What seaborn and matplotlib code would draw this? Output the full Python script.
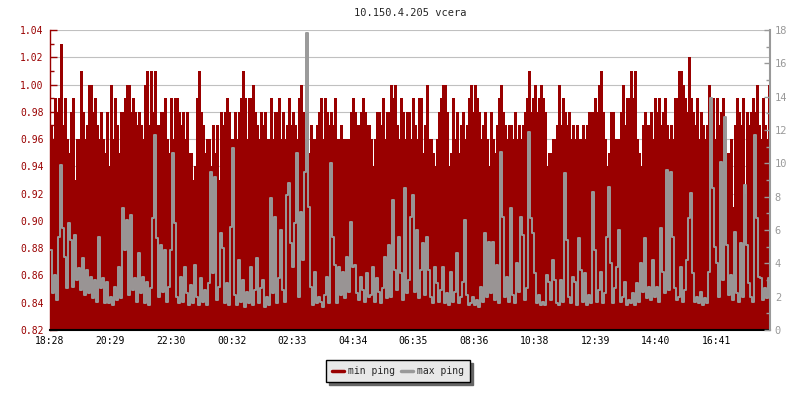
#%% IMPORTS
import numpy as np
import matplotlib
matplotlib.use("Agg")
import matplotlib.pyplot as plt
from matplotlib.lines import Line2D
from matplotlib.ticker import MultipleLocator, FormatStrFormatter, FixedLocator
import seaborn as sns

#%% DATA
title = "10.150.4.205 vcera"
start = "18:28"
step_min = 4  # one sample every 4 minutes, 24 h shown

time_labels = ["18:28", "20:29", "22:30", "00:32", "02:33", "04:34",
               "06:35", "08:36", "10:38", "12:39", "14:40", "16:41"]

# min ping, in hundredths of a ms (left axis)
min_ping_cents = [
    97, 96, 99, 98, 99, 103, 97, 99, 96, 95,
    98, 99, 93, 96, 96, 101, 98, 96, 97, 100,
    100, 98, 99, 97, 96, 98, 96, 95, 98, 94,
    100, 96, 99, 97, 95, 98, 98, 99, 100, 100,
    98, 99, 98, 97, 98, 97, 96, 100, 101, 97,
    101, 98, 101, 97, 97, 98, 98, 99, 96, 95,
    99, 96, 99, 99, 98, 97, 98, 96, 98, 95,
    95, 93, 94, 99, 101, 98, 97, 95, 96, 96,
    94, 97, 95, 97, 93, 98, 97, 98, 99, 98,
    96, 96, 98, 96, 98, 99, 101, 99, 96, 99,
    99, 100, 98, 97, 96, 98, 97, 98, 96, 96,
    99, 96, 98, 98, 99, 96, 98, 96, 97, 99,
    97, 98, 97, 96, 99, 100, 98, 96, 98, 95,
    97, 96, 96, 97, 98, 99, 96, 99, 98, 97,
    98, 97, 99, 96, 96, 97, 96, 96, 96, 96,
    98, 99, 98, 97, 97, 98, 99, 98, 97, 97,
    96, 94, 96, 98, 98, 97, 99, 96, 98, 98,
    100, 99, 100, 97, 96, 99, 98, 96, 98, 98,
    96, 99, 97, 96, 99, 99, 95, 97, 100, 96,
    96, 95, 94, 96, 98, 99, 100, 100, 98, 94,
    95, 99, 96, 98, 95, 97, 98, 96, 97, 99,
    100, 98, 100, 99, 98, 96, 97, 98, 96, 94,
    98, 96, 95, 97, 99, 100, 98, 97, 96, 97,
    97, 96, 98, 96, 97, 96, 97, 98, 99, 101,
    98, 99, 100, 98, 99, 100, 99, 98, 94, 95,
    95, 96, 96, 97, 100, 97, 99, 98, 97, 98,
    96, 97, 96, 97, 96, 96, 97, 96, 97, 98,
    98, 98, 99, 98, 100, 101, 98, 96, 94, 95,
    98, 98, 96, 96, 96, 98, 100, 97, 99, 99,
    101, 99, 101, 96, 95, 94, 97, 98, 97, 97,
    98, 96, 99, 98, 99, 97, 98, 99, 97, 96,
    97, 96, 99, 99, 101, 101, 100, 99, 98, 102,
    99, 98, 97, 99, 96, 98, 97, 96, 97, 100,
    98, 99, 96, 99, 97, 98, 99, 96, 95, 95,
    96, 91, 97, 99, 98, 97, 99, 92, 98, 97,
    98, 99, 98, 100, 97, 96, 99, 97, 96, 100,
]

# max ping in ms (right axis)
max_ping = [
    4.8, 2.2, 3.3, 1.8, 5.6, 9.9, 6.1, 4.4, 2.5, 6.4,
    5.4, 2.6, 5.7, 3.0, 3.7, 2.4, 4.3, 2.1, 3.6, 2.2,
    3.2, 1.9, 3.0, 1.7, 5.6, 2.5, 3.1, 1.6, 2.9, 1.6,
    2.0, 1.5, 2.6, 1.8, 3.8, 1.9, 7.3, 4.8, 6.6, 2.1,
    6.9, 2.4, 3.1, 1.7, 4.6, 2.2, 3.2, 1.6, 2.9, 1.5,
    2.5, 6.7, 11.7, 5.5, 2.0, 5.1, 2.3, 4.8, 1.7, 2.6,
    4.8, 10.6, 6.4, 2.0, 1.6, 3.2, 1.7, 3.8, 2.2, 1.5,
    2.7, 1.6, 3.9, 2.0, 1.5, 3.1, 1.7, 2.4, 1.5, 2.8,
    9.5, 3.4, 9.2, 1.8, 2.6, 5.8, 4.9, 1.6, 2.8, 1.5,
    6.2, 10.9, 2.1, 1.5, 4.2, 1.7, 3.0, 1.4, 2.3, 1.6,
    3.8, 1.5, 2.4, 4.3, 1.6, 2.5, 3.0, 1.4, 2.0, 1.5,
    7.9, 2.2, 6.8, 1.6, 3.1, 6.0, 2.4, 1.7, 8.1, 8.8,
    5.2, 3.8, 6.4, 10.6, 2.0, 7.1, 4.2, 9.5, 17.8, 7.4,
    2.6, 1.5, 3.5, 1.6, 2.0, 1.7, 1.4, 2.1, 3.2, 1.6,
    10.0, 5.6, 3.9, 1.6, 3.8, 2.1, 3.5, 1.9, 4.4, 2.3,
    6.5, 3.8, 3.9, 2.2, 1.8, 3.2, 2.4, 1.7, 3.4, 2.0,
    2.1, 3.8, 1.7, 3.1, 2.3, 1.6, 2.5, 4.4, 1.9, 5.1,
    2.0, 7.8, 3.6, 2.4, 5.6, 3.4, 1.8, 8.5, 2.2, 3.0,
    6.8, 8.1, 2.3, 6.0, 1.9, 3.6, 5.2, 2.1, 5.6, 3.6,
    2.0, 1.6, 3.8, 2.8, 1.7, 2.4, 3.8, 1.6, 2.2, 1.5,
    3.5, 1.7, 2.3, 4.6, 1.6, 2.0, 2.9, 6.6, 2.1, 1.5,
    1.6, 2.0, 1.5, 1.8, 1.4, 2.6, 1.7, 5.8, 2.0, 5.3,
    2.2, 5.3, 1.8, 3.9, 1.6, 10.7, 6.8, 2.0, 3.2, 1.7,
    7.3, 2.1, 1.6, 4.0, 2.3, 6.8, 5.7, 1.8, 2.5, 11.9,
    6.7, 5.8, 3.4, 1.6, 2.1, 1.5, 1.7, 1.5, 3.3, 2.9,
    1.8, 4.2, 3.0, 1.6, 1.5, 3.0, 1.7, 9.4, 5.4, 2.0,
    1.6, 3.2, 2.9, 1.5, 5.5, 3.6, 1.7, 3.4, 1.5, 2.1,
    1.6, 8.3, 4.8, 1.7, 2.4, 3.5, 1.6, 2.2, 5.6, 8.6,
    4.0, 1.6, 2.5, 3.8, 6.0, 1.7, 2.0, 2.9, 1.5, 1.8,
    1.6, 2.2, 1.5, 2.8, 1.7, 4.0, 2.3, 5.5, 1.9, 2.6,
    1.8, 4.2, 2.0, 2.6, 1.7, 6.1, 3.5, 2.2, 9.6, 2.4,
    9.5, 5.6, 2.5, 1.8, 2.0, 3.8, 1.7, 2.4, 4.2, 6.7,
    8.2, 3.4, 1.7, 2.0, 1.6, 2.3, 1.5, 1.9, 1.6, 3.5,
    13.9, 8.5, 5.0, 4.0, 2.0, 10.1, 3.0, 12.8, 5.1, 2.1,
    3.3, 1.8, 5.9, 2.2, 1.7, 5.2, 2.0, 8.7, 5.1, 2.8,
    2.0, 1.7, 11.7, 6.7, 3.2, 3.1, 1.8, 2.5, 1.9, 3.1,
]

#%% PREP
RED = "#990000"
GREY = "#999999"

t = np.arange(len(min_ping_cents) + 1) * step_min
min_vals = np.append(min_ping_cents, min_ping_cents[-1]) / 100
max_vals = np.append(max_ping, max_ping[-1])


def minutes_from_start(label):
    h, m = map(int, label.split(":"))
    h0, m0 = map(int, start.split(":"))
    return ((h * 60 + m) - (h0 * 60 + m0)) % 1440


tick_pos = [minutes_from_start(l) for l in time_labels]

#%% PLOT
sns.set_style("white")
plt.rcParams["font.family"] = ["DejaVu Sans Mono"]

fig = plt.figure(figsize=(8, 4), dpi=100)
ax = fig.add_axes([50 / 800, 70 / 400, 720 / 800, 300 / 400])
ax2 = ax.twinx()

ax.fill_between(t, 0.82, min_vals, step="post", color=RED, lw=0, antialiased=False)
sns.lineplot(x=t, y=min_vals, drawstyle="steps-post", color=RED, lw=0.6,
             ax=ax, legend=False, antialiased=False)
sns.lineplot(x=t, y=max_vals, drawstyle="steps-post", color=GREY, lw=1.4,
             ax=ax2, legend=False)

ax.set_xlim(0, 1440)
ax.set_ylim(0.82, 1.04)
ax2.set_ylim(0, 18)
ax.set_xlabel("")
ax.set_ylabel("")
ax2.set_ylabel("")

ax.xaxis.set_major_locator(FixedLocator(tick_pos))
ax.set_xticklabels(time_labels)
ax.yaxis.set_major_locator(MultipleLocator(0.02))
ax.yaxis.set_minor_locator(MultipleLocator(0.01))
ax.yaxis.set_major_formatter(FormatStrFormatter("%.2f"))
ax2.yaxis.set_major_locator(MultipleLocator(2))
ax2.yaxis.set_minor_locator(MultipleLocator(1))

ax.set_axisbelow(True)
ax.yaxis.grid(True, color="#c0c0c0", lw=0.8)
ax.xaxis.grid(False)

ax.tick_params(axis="x", direction="in", length=5, width=1, color="black",
               labelsize=7, labelcolor="black", pad=4)
ax.tick_params(axis="y", which="major", direction="in", length=5, width=1,
               color=RED, labelsize=7, labelcolor=RED, pad=4.5)
ax.tick_params(axis="y", which="minor", direction="in", length=3, width=1, color=RED)
ax2.tick_params(axis="y", which="major", direction="in", length=4, width=1,
                color=GREY, labelsize=7.5, labelcolor=GREY, pad=3.5)
ax2.tick_params(axis="y", which="minor", direction="in", length=3, width=1, color=GREY)

for a in (ax, ax2):
    a.spines["top"].set_visible(False)
ax.spines["right"].set_visible(False)
ax2.spines["left"].set_visible(False)
ax2.spines["bottom"].set_visible(False)
ax.spines["left"].set_color(RED)
ax.spines["left"].set_linewidth(1)
ax.spines["bottom"].set_color("black")
ax.spines["bottom"].set_linewidth(1.5)
ax2.spines["right"].set_color(GREY)
ax2.spines["right"].set_linewidth(1.5)

fig.text(410 / 800, 1 - 13 / 400, title, ha="center", va="center", fontsize=7.5)

handles = [Line2D([], [], color=RED, lw=2.5), Line2D([], [], color=GREY, lw=2.5)]
leg = fig.legend(handles, ["min ping", "max ping"], loc="center",
                 bbox_to_anchor=(398 / 800, 1 - 371 / 400), ncol=2, fontsize=7,
                 frameon=True, fancybox=False, edgecolor="black",
                 facecolor="#e8e8e8", framealpha=1, handlelength=1.2,
                 handletextpad=0.4, columnspacing=0.7, borderpad=0.6,
                 shadow={"ox": 2.2, "oy": -2.2, "facecolor": "#666666",
                         "edgecolor": "#666666", "alpha": 1})
leg.get_frame().set_linewidth(1)

fig.savefig("out.png", dpi=100)
